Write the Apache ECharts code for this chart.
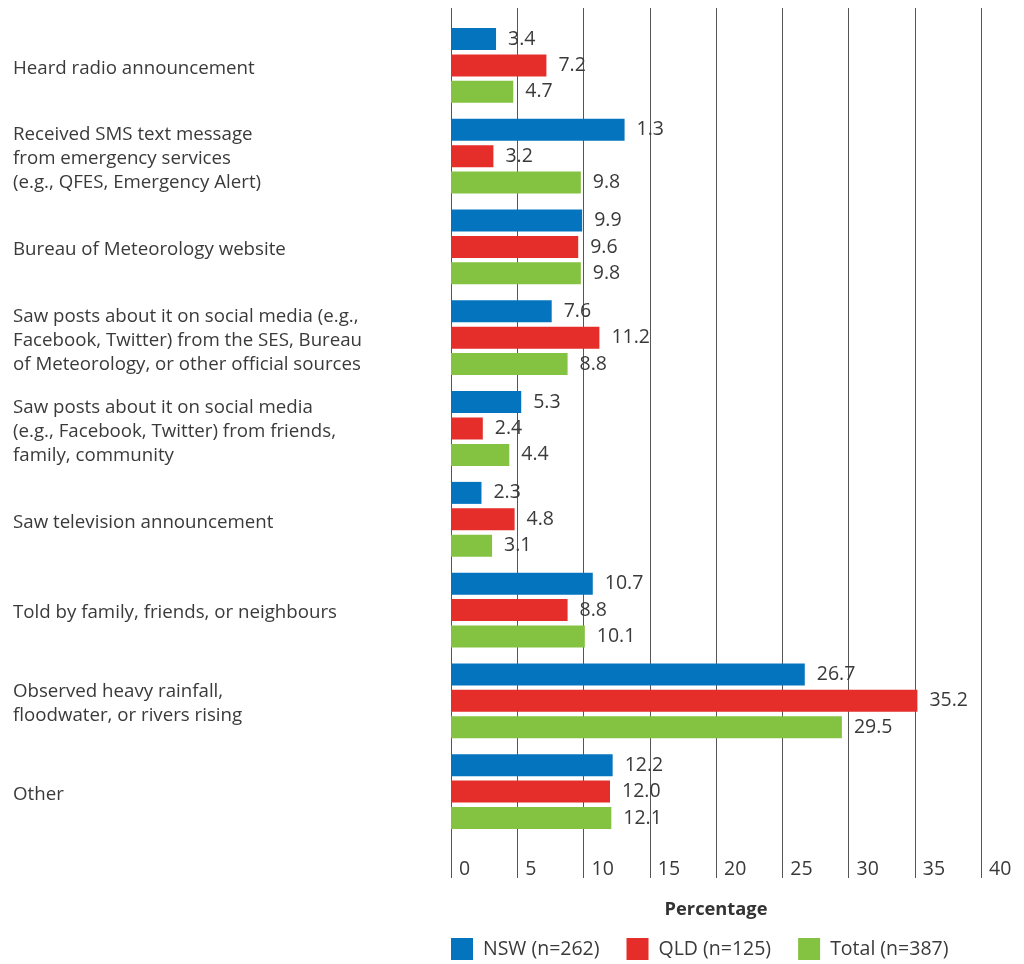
<!DOCTYPE html>
<html>
<head>
<meta charset="utf-8">
<script src="https://cdn.jsdelivr.net/npm/echarts@6/dist/echarts.min.js"></script>
<style>
html,body{margin:0;padding:0;background:#fff;}
#chart{width:1024px;height:964px;}
</style>
</head>
<body>
<div id="chart"></div>
<script>
const categories = [
  'Heard radio announcement',
  'Received SMS text message\nfrom emergency services\n(e.g., QFES, Emergency Alert)',
  'Bureau of Meteorology website',
  'Saw posts about it on social media (e.g.,\nFacebook, Twitter) from the SES, Bureau\nof Meteorology, or other official sources',
  'Saw posts about it on social media\n(e.g., Facebook, Twitter) from friends,\nfamily, community',
  'Saw television announcement',
  'Told by family, friends, or neighbours',
  'Observed heavy rainfall,\nfloodwater, or rivers rising',
  'Other'
];
const seriesNames = ['NSW (n=262)', 'QLD (n=125)', 'Total (n=387)'];
const nswValues   = [3.4, 13.1, 9.9, 7.6, 5.3, 2.3, 10.7, 26.7, 12.2];
const nswLabels   = ['3.4', '1.3', '9.9', '7.6', '5.3', '2.3', '10.7', '26.7', '12.2'];
const qldValues   = [7.2, 3.2, 9.6, 11.2, 2.4, 4.8, 8.8, 35.2, 12.0];
const totalValues = [4.7, 9.8, 9.8, 8.8, 4.4, 3.1, 10.1, 29.5, 12.1];
const xTicks = [0, 5, 10, 15, 20, 25, 30, 35, 40];
const colors = ['#0474bf', '#e52d2a', '#84c341'];

const FONT = 'Open Sans';
const TXT = '#3a3a3a';

const labelBase = {
  show: true, position: 'right', distance: 12,
  fontFamily: FONT, fontSize: 19.5, color: TXT
};

const chart = echarts.init(document.getElementById('chart'), null, {renderer: 'canvas'});
chart.setOption({
  animation: false,
  color: colors,
  textStyle: {fontFamily: FONT},
  grid: [
    {left: 451, right: 43, top: 20, height: 817},
    {left: 451, right: 43, top: 8, bottom: 86},
    {left: 451, right: 43, top: 23, height: 817}
  ],
  xAxis: [
    {gridIndex: 0, type: 'value', min: xTicks[0], max: xTicks[xTicks.length - 1], show: false},
    {gridIndex: 1, type: 'value', min: xTicks[0], max: xTicks[xTicks.length - 1], interval: 5,
     axisLine: {show: false}, axisTick: {show: false},
     splitLine: {show: true, lineStyle: {color: '#555', width: 1}},
     axisLabel: {
       margin: -9, verticalAlign: 'middle', align: 'left', padding: [0, 0, 0, 8],
       fontFamily: FONT, fontSize: 19.5, color: TXT,
       showMinLabel: true, showMaxLabel: true
     },
     name: 'Percentage', nameLocation: 'middle', nameGap: 23,
     nameTextStyle: {fontFamily: FONT, fontSize: 18.3, fontWeight: 'bold', color: '#333'}
    },
    {gridIndex: 2, type: 'value', min: 0, max: 40, show: false}
  ],
  yAxis: [
    {gridIndex: 0, type: 'category', inverse: true, data: categories,
     axisLine: {show: false}, axisTick: {show: false}, splitLine: {show: false},
     axisLabel: {show: false}
    },
    {gridIndex: 1, type: 'value', show: false},
    {gridIndex: 2, type: 'category', inverse: true, data: categories,
     axisLine: {show: false}, axisTick: {show: false}, splitLine: {show: false},
     axisLabel: {align: 'left', margin: 438, fontFamily: FONT, fontSize: 18.7, lineHeight: 24, color: TXT, interval: 0}
    }
  ],
  legend: {
    left: 451, top: 938, padding: 0, itemWidth: 22, itemHeight: 22, itemGap: 27, icon: 'rect',
    textStyle: {fontFamily: FONT, fontSize: 19.5, color: TXT, padding: [0, 0, 0, 5]},
    data: seriesNames
  },
  series: [
    {name: seriesNames[0], type: 'bar', xAxisIndex: 0, yAxisIndex: 0, data: nswValues,
     barWidth: 22, barGap: '20%',
     label: Object.assign({}, labelBase, {formatter: p => nswLabels[p.dataIndex]})},
    {name: seriesNames[1], type: 'bar', xAxisIndex: 0, yAxisIndex: 0, data: qldValues,
     barWidth: 22, barGap: '20%',
     label: Object.assign({}, labelBase, {formatter: p => p.value.toFixed(1)})},
    {name: seriesNames[2], type: 'bar', xAxisIndex: 0, yAxisIndex: 0, data: totalValues,
     barWidth: 22, barGap: '20%',
     label: Object.assign({}, labelBase, {formatter: p => p.value.toFixed(1)})}
  ]
});
</script>
</body>
</html>
